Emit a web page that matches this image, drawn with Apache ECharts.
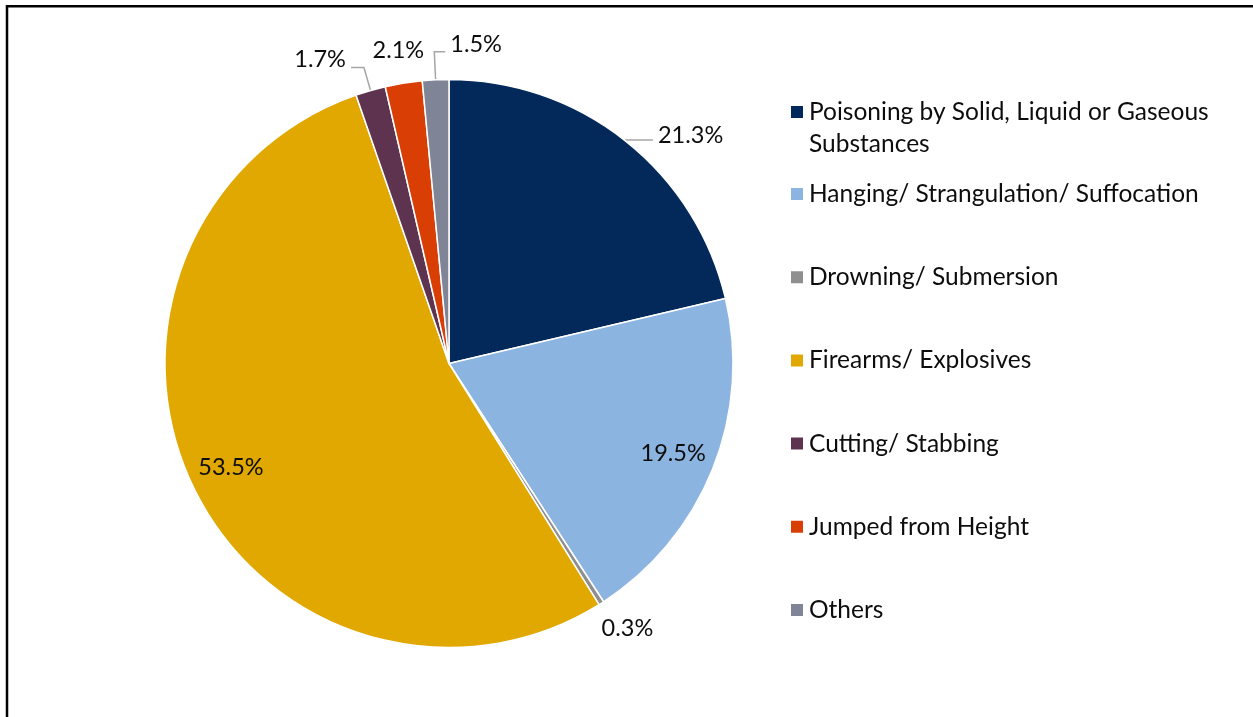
<!DOCTYPE html>
<html>
<head>
<meta charset="utf-8">
<script src="https://cdn.jsdelivr.net/npm/echarts@6/dist/echarts.min.js"></script>
<style>
  html, body { margin: 0; padding: 0; background: #fff; }
  #chart { width: 1253px; height: 717px; }
</style>
</head>
<body>
<div id="chart"></div>
<script>
// Share of deaths by method (%)
const categories = [
  'Poisoning by Solid, Liquid or Gaseous Substances',
  'Hanging/ Strangulation/ Suffocation',
  'Drowning/ Submersion',
  'Firearms/ Explosives',
  'Cutting/ Stabbing',
  'Jumped from Height',
  'Others'
];
const shares = [21.3, 19.5, 0.3, 53.5, 1.7, 2.1, 1.5];

const palette = ['#03295a', '#8cb4e0', '#8f8f8f', '#e0a800', '#5e3350', '#d93f04', '#7f8596'];

const FONT = 'Lato';
const PIE_CENTER = [449, 363.5];
const PIE_R = 284;

// label placement per slice: outside with a leader line, inside, or floating text
const labelStyles = [
  { pos: 'outside', line: true, len: 1, len2: 27, dy: -5 },
  { pos: 'inside' },
  { pos: 'outside', line: false, len: 30, len2: 0 },
  { pos: 'inside' },
  { pos: 'outside', line: true, len: 24, len2: 13, dy: -8 },
  { pos: 'outside', line: false, len: 33, len2: 0 },
  { pos: 'outside', line: true, len: 28, len2: 11, dy: -7, flip: true }
];

const fmt = p => p.value.toFixed(1) + '%';

const mainData = categories.map((name, i) => {
  const s = labelStyles[i];
  const outside = s.pos === 'outside';
  return {
    name,
    value: shares[i],
    itemStyle: { color: palette[i] },
    label: {
      show: outside,
      position: 'outside',
      distanceToLabelLine: s.line ? 5 : 0
    },
    labelLine: {
      show: !!s.line,
      length: s.len || 0,
      length2: s.len2 || 0
    }
  };
});

// transparent ring whose mid-radius carries the in-slice labels
const innerLabelData = categories.map((name, i) => ({
  name,
  value: shares[i],
  label: { show: labelStyles[i].pos === 'inside' }
}));

const chart = echarts.init(document.getElementById('chart'), null, { renderer: 'canvas' });

chart.setOption({
  backgroundColor: '#ffffff',
  animation: false,
  graphic: [{
    type: 'rect',
    shape: { x: 7, y: 6.2, width: 1400, height: 900 },
    style: { fill: 'none', stroke: '#000', lineWidth: 2.5 },
    silent: true
  }],
  legend: [
    {
      data: [categories[0]],
      orient: 'vertical',
      left: 789,
      top: 64,
      padding: 0,
      itemWidth: 14,
      itemHeight: 14,
      selectedMode: false,
      icon: 'rect',
      formatter: () => '\nPoisoning by Solid, Liquid or Gaseous\nSubstances',
      textStyle: { fontFamily: FONT, fontSize: 24.5, color: '#0d0d0d', lineHeight: 32 }
    },
    {
      data: categories.slice(1),
      orient: 'vertical',
      left: 789,
      top: 180,
      padding: 0,
      itemWidth: 14,
      itemHeight: 14,
      itemGap: 55.2,
      selectedMode: false,
      icon: 'rect',
      textStyle: { fontFamily: FONT, fontSize: 24.5, color: '#0d0d0d', lineHeight: 28 }
    }
  ],
  series: [
    {
      type: 'pie',
      center: PIE_CENTER,
      radius: PIE_R,
      startAngle: 90,
      clockwise: true,
      avoidLabelOverlap: false,
      emphasis: { disabled: true },
      itemStyle: { borderColor: '#ffffff', borderWidth: 1.5 },
      label: {
        formatter: fmt,
        fontFamily: FONT,
        fontSize: 23.5,
        color: '#0d0d0d'
      },
      labelLine: {
        lineStyle: { color: '#a6a6a6', width: 1.5 },
        smooth: false
      },
      labelLayout: function (p) {
        const s = labelStyles[p.dataIndex];
        if (!s.line) return { align: 'center', dx: p.dataIndex === 2 ? 10 : 0 };
        const out = { dy: s.dy || 0 };
        if (s.flip && p.labelLinePoints) {
          // turn the leader's last leg to the right instead of the left
          const pts = p.labelLinePoints;
          const bend = pts[1];
          const end = pts[2];
          const mirrored = [2 * bend[0] - end[0], bend[1]];
          out.labelLinePoints = [pts[0], bend, mirrored];
          out.align = 'left';
          out.dx = (mirrored[0] - end[0]) + 10;
        }
        return out;
      },
      data: mainData
    },
    {
      type: 'pie',
      center: PIE_CENTER,
      radius: [PIE_R * 0.68, PIE_R],
      startAngle: 90,
      clockwise: true,
      silent: true,
      legendHoverLink: false,
      avoidLabelOverlap: false,
      emphasis: { disabled: true },
      itemStyle: { color: 'rgba(0,0,0,0)', borderWidth: 0 },
      label: {
        position: 'inside',
        formatter: fmt,
        fontFamily: FONT,
        fontSize: 23.5,
        color: '#0d0d0d'
      },
      labelLine: { show: false },
      data: innerLabelData
    }
  ]
});
</script>
</body>
</html>
